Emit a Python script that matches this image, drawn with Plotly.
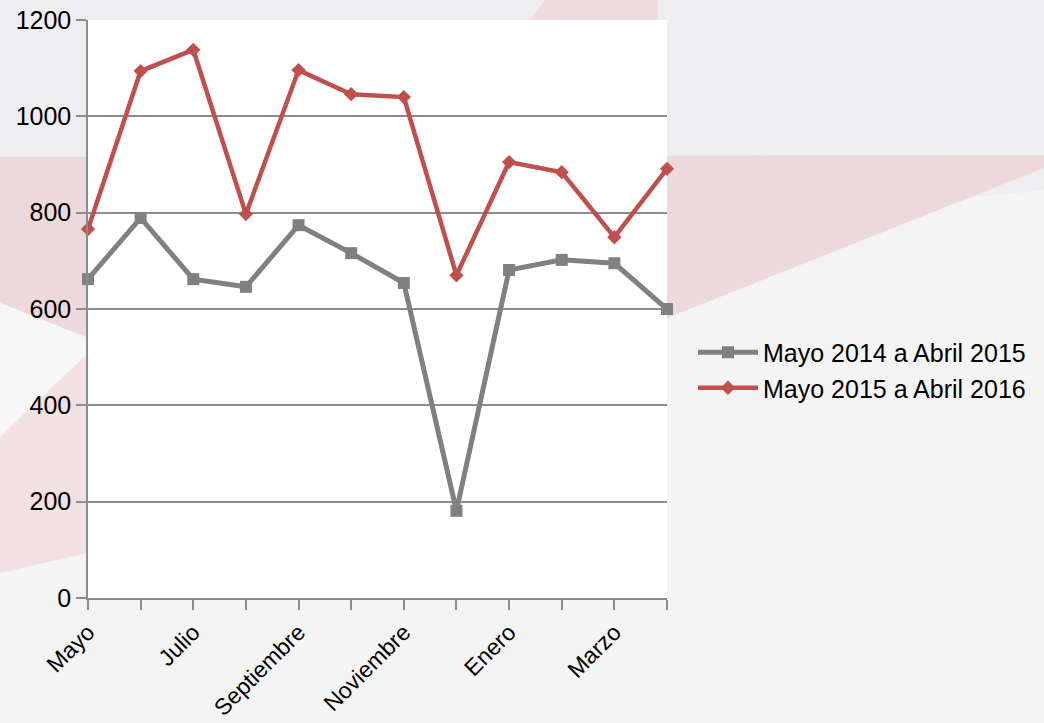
import plotly.graph_objects as go

months = ["Mayo", "Junio", "Julio", "Agosto", "Septiembre", "Octubre",
          "Noviembre", "Diciembre", "Enero", "Febrero", "Marzo", "Abril"]
tick_labels = ["Mayo", "", "Julio", "", "Septiembre", "",
               "Noviembre", "", "Enero", "", "Marzo", ""]
serie_2014_2015 = [662, 789, 662, 646, 774, 716, 654, 181, 681, 702, 695, 600]
serie_2015_2016 = [766, 1094, 1138, 797, 1096, 1046, 1040, 670, 905, 884, 749, 891]
name_2014 = "Mayo 2014 a Abril 2015"
name_2015 = "Mayo 2015 a Abril 2016"

W, H = 1044, 723
L, R, T, B = 88, 1044 - 667, 20, 723 - 598
PW, PH = W - L - R, H - T - B


def px(x, y):
    return (x - L) / PW, (H - B - y) / PH


def poly(points, color):
    pts = [px(x, y) for x, y in points]
    d = "M " + " L ".join(f"{a:.4f},{b:.4f}" for a, b in pts) + " Z"
    return dict(type="path", xref="paper", yref="paper", path=d,
                fillcolor=color, line=dict(width=0), layer="below")


shapes = [
    # lighter lower background
    poly([(0, 300), (1044, 190), (1044, 723), (0, 723)], "#f4f4f5"),
    # pink bands of the slide background
    poly([(0, 157), (1044, 155), (1044, 168), (667, 318), (88, 338), (0, 303)], "#edd9db"),
    poly([(0, 303), (88, 338), (88, 353), (0, 437)], "#f7f7f7"),
    poly([(0, 437), (88, 353), (88, 553), (0, 573)], "#f3e0e2"),
    poly([(545, 0), (658, 0), (658, 20), (530, 20)], "#efdcde"),
    # white plot area
    dict(type="rect", xref="paper", yref="paper", x0=0, x1=1, y0=0, y1=1,
         fillcolor="white", line=dict(width=0), layer="below"),
]

fig = go.Figure()
fig.add_trace(go.Scatter(
    x=months, y=serie_2014_2015, name=name_2014, mode="lines+markers",
    line=dict(color="#808080", width=5),
    marker=dict(symbol="square", size=12, color="#808080"),
    cliponaxis=False, legendgroup="a"))
fig.add_trace(go.Scatter(
    x=months, y=serie_2015_2016, name=name_2015, mode="lines+markers",
    line=dict(color="#c0504d", width=4.5),
    marker=dict(symbol="diamond", size=11, color="#c0504d"),
    cliponaxis=False, legendgroup="b"))

fig.update_layout(
    width=W, height=H,
    margin=dict(l=L, r=R, t=T, b=B, pad=0, autoexpand=False),
    paper_bgcolor="#eeeef0",
    plot_bgcolor="rgba(0,0,0,0)",
    font=dict(family="Liberation Sans, Arial, sans-serif", color="black"),
    shapes=shapes,
    showlegend=True,
    legend=dict(x=(693 - L) / PW, y=(598 - 370) / PH, xanchor="left", yanchor="middle",
                bgcolor="rgba(0,0,0,0)", font=dict(size=25), tracegroupgap=0,
                itemwidth=60),
)
fig.update_xaxes(
    type="category", range=[0, 11], tickmode="array", tickvals=months,
    ticktext=tick_labels, tickangle=-45, tickfont=dict(size=23), automargin=False,
    ticks="outside", ticklen=10, tickwidth=1.5, tickcolor="#8c8c8c",
    showline=True, linecolor="#8c8c8c", linewidth=1.5, showgrid=False, zeroline=False)
fig.update_yaxes(
    range=[0, 1200], dtick=200, tickfont=dict(size=25), automargin=False,
    ticks="outside", ticklen=10, tickwidth=1.5, tickcolor="#8c8c8c",
    showline=True, linecolor="#8c8c8c", linewidth=1.5,
    showgrid=True, gridcolor="#8c8c8c", gridwidth=1.5, zeroline=False)

fig.write_html("out.html", config={"displayModeBar": False},
               post_script="document.body.style.margin='0';document.body.style.padding='0';")
